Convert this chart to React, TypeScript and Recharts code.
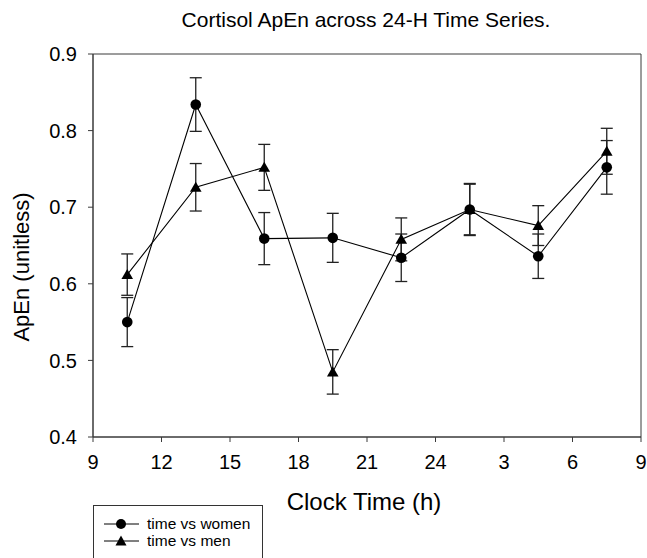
import { ErrorBar, Line, LineChart, ReferenceArea, XAxis, YAxis } from "recharts";

// clock time of each sampling window (hours past midnight on day 1; >24 = next day)
const TIMES = [10.5, 13.5, 16.5, 19.5, 22.5, 25.5, 28.5, 31.5];
const WOMEN = [0.55, 0.834, 0.659, 0.66, 0.634, 0.697, 0.636, 0.752];
const WOMEN_ERR = [0.032, 0.035, 0.034, 0.032, 0.031, 0.034, 0.029, 0.035];
const MEN = [0.612, 0.726, 0.752, 0.485, 0.658, 0.697, 0.676, 0.773];
const MEN_ERR = [0.027, 0.031, 0.03, 0.029, 0.028, 0.033, 0.026, 0.03];
const X_TICKS = [9, 12, 15, 18, 21, 24, 27, 30, 33];
const Y_TICKS = [0.4, 0.5, 0.6, 0.7, 0.8, 0.9];

const data = TIMES.map((t, i) => ({
  t,
  women: WOMEN[i],
  womenErr: WOMEN_ERR[i],
  men: MEN[i],
  menErr: MEN_ERR[i],
}));

const FONT = '"Liberation Sans", Arial, Helvetica, sans-serif';
const AXIS = "#3a3a3a";
const TICK = { fontSize: 20, fill: "#000", fontFamily: FONT };

function CircleDot(props: any) {
  const { cx, cy, index } = props;
  if (cx == null || cy == null) return null;
  return <circle key={`c${index}`} cx={cx} cy={cy} r={5.3} fill="#000" />;
}

function TriangleDot(props: any) {
  const { cx, cy, index } = props;
  if (cx == null || cy == null) return null;
  const pts = `${cx},${cy - 5.5} ${cx - 5.8},${cy + 4.5} ${cx + 5.8},${cy + 4.5}`;
  return <polygon key={`t${index}`} points={pts} fill="#000" />;
}

function LegendBox() {
  const row = (label: string, marker: "circle" | "triangle") => (
    <div style={{ display: "flex", alignItems: "center", height: 17 }}>
      <svg width={44} height={14} style={{ marginLeft: 9 }}>
        <line x1={1} y1={7} x2={36} y2={7} stroke="#000" strokeWidth={1} />
        {marker === "circle" ? (
          <circle cx={18} cy={7} r={5} fill="#000" />
        ) : (
          <polygon points="18,1.5 12.5,11.5 23.5,11.5" fill="#000" />
        )}
      </svg>
      <span style={{ fontSize: 15.5 }}>{label}</span>
    </div>
  );
  return (
    <div
      style={{
        position: "absolute",
        left: 93,
        top: 505,
        width: 170,
        height: 70,
        border: "1px solid #333",
        boxSizing: "border-box",
        paddingTop: 9,
        background: "#fff",
      }}
    >
      {row("time vs women", "circle")}
      {row("time vs men", "triangle")}
    </div>
  );
}

export default function App() {
  return (
    <div
      style={{
        position: "absolute",
        left: 0,
        top: 0,
        width: 647,
        height: 558,
        overflow: "hidden",
        background: "#fff",
        fontFamily: FONT,
        color: "#000",
      }}
    >
      <LineChart
        width={647}
        height={558}
        data={data}
        margin={{ top: 54, right: 6, bottom: 91, left: 0 }}
      >
        <XAxis
          dataKey="t"
          type="number"
          domain={[9, 33]}
          ticks={X_TICKS}
          interval={0}
          tickFormatter={(v: number) => String(v > 24 ? v - 24 : v)}
          height={30}
          stroke={AXIS}
          tick={TICK}
          tickSize={5}
          tickMargin={13}
          allowDataOverflow
        />
        <YAxis
          type="number"
          domain={[0.4, 0.9]}
          ticks={Y_TICKS}
          interval={0}
          tickFormatter={(v: number) => v.toFixed(1)}
          width={93}
          stroke={AXIS}
          tick={TICK}
          tickSize={5}
          tickMargin={11}
          allowDataOverflow
        />
        <ReferenceArea x1={9} x2={33} y1={0.4} y2={0.9} fill="none" fillOpacity={0} stroke={AXIS} strokeWidth={1} />
        <Line
          dataKey="women"
          stroke="#000"
          strokeWidth={1.1}
          dot={CircleDot}
          activeDot={false}
          isAnimationActive={false}
        >
          <ErrorBar dataKey="womenErr" width={6} stroke="#222" strokeWidth={1.3} direction="y" />
        </Line>
        <Line
          dataKey="men"
          stroke="#000"
          strokeWidth={1.1}
          dot={TriangleDot}
          activeDot={false}
          isAnimationActive={false}
        >
          <ErrorBar dataKey="menErr" width={6} stroke="#222" strokeWidth={1.3} direction="y" />
        </Line>
      </LineChart>

      <div
        style={{
          position: "absolute",
          left: 366,
          top: 20,
          transform: "translate(-50%, -50%)",
          fontSize: 21,
          whiteSpace: "nowrap",
        }}
      >
        Cortisol ApEn across 24-H Time Series.
      </div>
      <div
        style={{
          position: "absolute",
          left: 364,
          top: 502,
          transform: "translate(-50%, -50%)",
          fontSize: 24,
          whiteSpace: "nowrap",
        }}
      >
        Clock Time (h)
      </div>
      <div
        style={{
          position: "absolute",
          left: 22,
          top: 267,
          transform: "translate(-50%, -50%) rotate(-90deg)",
          fontSize: 22,
          whiteSpace: "nowrap",
        }}
      >
        ApEn (unitless)
      </div>
      <LegendBox />
    </div>
  );
}
